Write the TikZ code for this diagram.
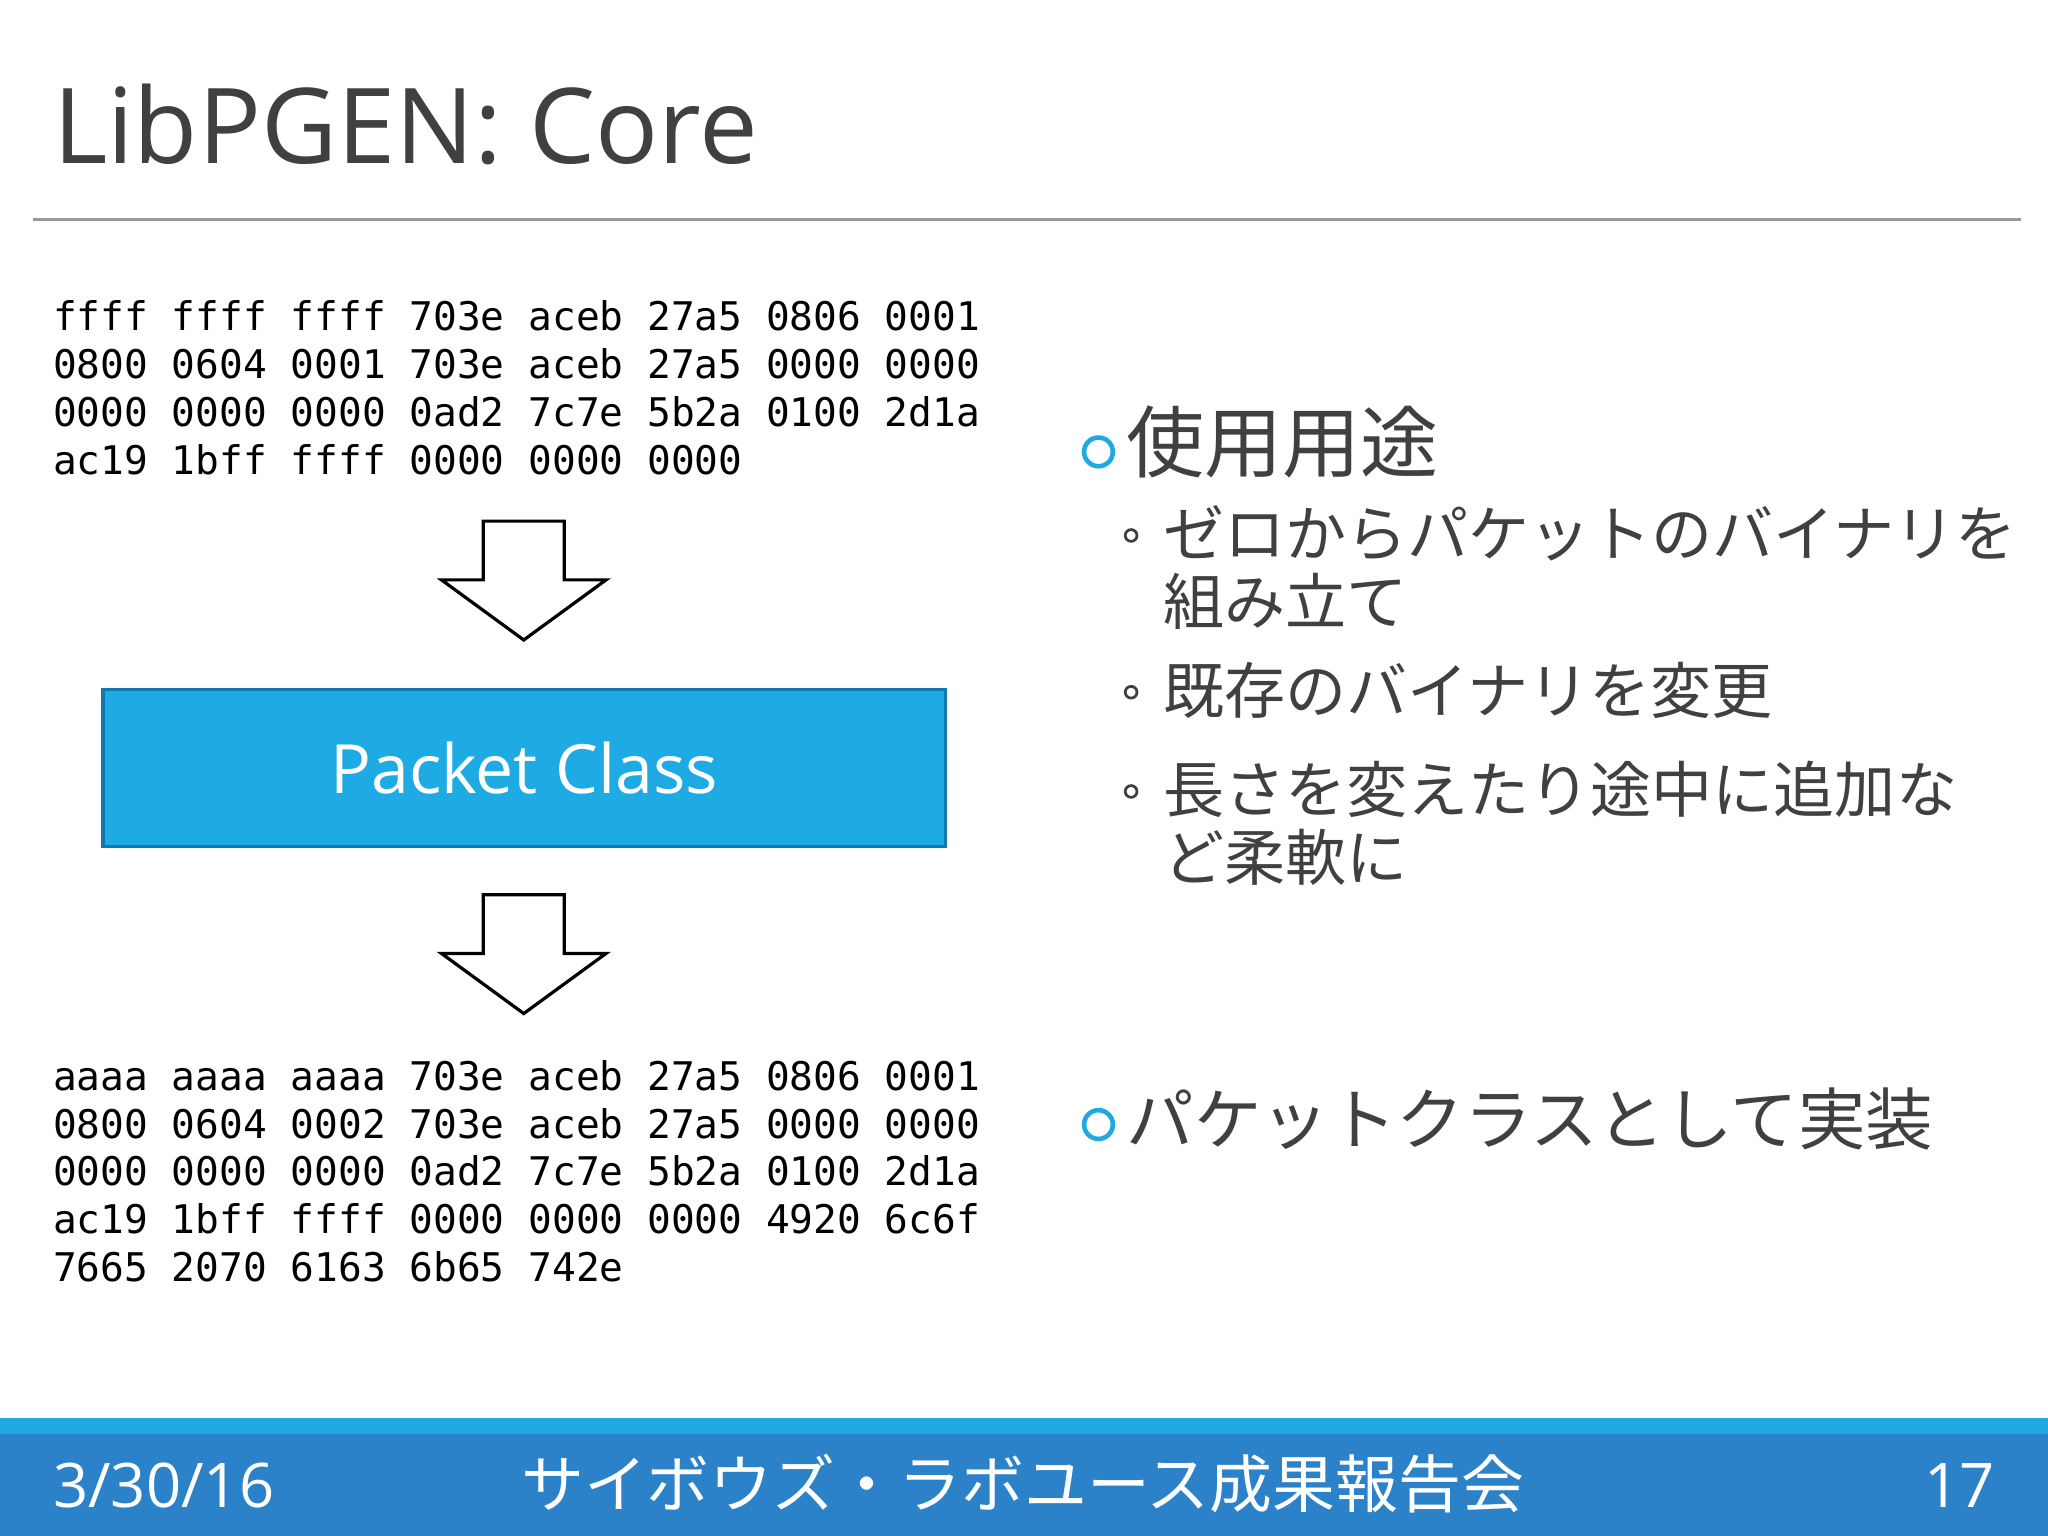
\documentclass[tikz,border=0pt]{standalone}
\usepackage{fontspec}
\setmainfont{Open Sans}
\newfontfamily\jp{Noto Sans CJK JP}
\newfontfamily\hexf{DejaVu Sans Mono}
\definecolor{txt}{HTML}{404040}
\definecolor{boxblue}{HTML}{1EABE3}
\definecolor{boxedge}{HTML}{1478B0}
\definecolor{footdark}{HTML}{2C82C9}
\definecolor{footlight}{HTML}{1EA9E1}
\tikzset{
  hex/.style={anchor=base west,align=left,inner sep=0pt,font=\hexf\fontsize{8.6}{10.4}\selectfont,text=black},
  blockarrow/.style={draw=black,line width=0.7pt,fill=white,line join=miter},
  bul/.style={anchor=base west,inner sep=0pt,text=txt,align=left},
}
\begin{document}
\begin{tikzpicture}[x=1cm,y=1cm]
\useasboundingbox (0,0) rectangle (15.68,11.76);
\fill[white] (0,0) rectangle (15.68,11.76);
% title
\node[anchor=base west,inner sep=0pt,text=txt,font=\fontsize{22.8}{27}\selectfont] (title) at (0.40,10.51) {LibPGEN: Core};
\draw[gray!80,line width=0.8pt] (0.25,10.08) -- (15.47,10.08);
% hex blocks
\node[hex] (hex1) at (0.40,8.13) {ffff ffff ffff 703e aceb 27a5 0806 0001\\0800 0604 0001 703e aceb 27a5 0000 0000\\0000 0000 0000 0ad2 7c7e 5b2a 0100 2d1a\\ac19 1bff ffff 0000 0000 0000};
\node[hex] (hex2) at (0.40,1.95) {aaaa aaaa aaaa 703e aceb 27a5 0806 0001\\0800 0604 0002 703e aceb 27a5 0000 0000\\0000 0000 0000 0ad2 7c7e 5b2a 0100 2d1a\\ac19 1bff ffff 0000 0000 0000 4920 6c6f\\7665 2070 6163 6b65 742e};
% arrows
\draw[blockarrow] (3.70,7.77) -- (4.32,7.77) -- (4.32,7.32) -- (4.64,7.32) -- (4.01,6.86) -- (3.38,7.32) -- (3.70,7.32) -- cycle;
\draw[blockarrow] (3.70,4.91) -- (4.32,4.91) -- (4.32,4.46) -- (4.64,4.46) -- (4.01,4.00) -- (3.38,4.46) -- (3.70,4.46) -- cycle;
% box
\node[draw=boxedge,fill=boxblue,line width=0.8pt,minimum width=6.45cm,minimum height=1.2cm,inner sep=0pt,text=white,font=\fontsize{14.8}{18}\selectfont] (pc) at (4.015,5.88) {Packet Class};
% right bullets
\node[draw=footlight,line width=1pt,circle,minimum size=0.22cm,inner sep=0pt] (c1) at (8.41,8.30) {};
\node[bul,font=\jp\fontsize{17}{20}\selectfont] (b1) at (8.62,8.15) {使用用途};
\node[draw=txt,line width=0.6pt,circle,minimum size=0.09cm,inner sep=0pt] (s1) at (8.66,7.66) {};
\node[bul,font=\jp\fontsize{13.3}{14.8}\selectfont] (t1) at (8.90,6.98) {ゼロからパケットのバイナリを\\組み立て};
\node[draw=txt,line width=0.6pt,circle,minimum size=0.09cm,inner sep=0pt] (s2) at (8.66,6.46) {};
\node[bul,font=\jp\fontsize{13.3}{14.8}\selectfont] (t2) at (8.90,6.30) {既存のバイナリを変更};
\node[draw=txt,line width=0.6pt,circle,minimum size=0.09cm,inner sep=0pt] (s3) at (8.66,5.70) {};
\node[bul,font=\jp\fontsize{13.3}{14.8}\selectfont] (t3) at (8.90,5.02) {長さを変えたり途中に追加な\\ど柔軟に};
\node[draw=footlight,line width=1pt,circle,minimum size=0.22cm,inner sep=0pt] (c2) at (8.41,3.15) {};
\node[bul,font=\jp\fontsize{14.7}{18}\selectfont] (b2) at (8.62,3.00) {パケットクラスとして実装};
% footer
\fill[footlight] (0,0.78) rectangle (15.68,0.90);
\fill[footdark] (0,0) rectangle (15.68,0.78);
\node[anchor=base west,inner sep=0pt,text=white,font=\fontsize{13.4}{16}\selectfont] (date) at (0.40,0.22) {3/30/16};
\node[anchor=base,inner sep=0pt,text=white,font=\jp\fontsize{13.7}{16}\selectfont] (ft) at (7.83,0.22) {サイボウズ・ラボユース成果報告会};
\node[anchor=base east,inner sep=0pt,text=white,font=\fontsize{13.4}{16}\selectfont] (pg) at (15.28,0.22) {17};
\end{tikzpicture}
\end{document}
